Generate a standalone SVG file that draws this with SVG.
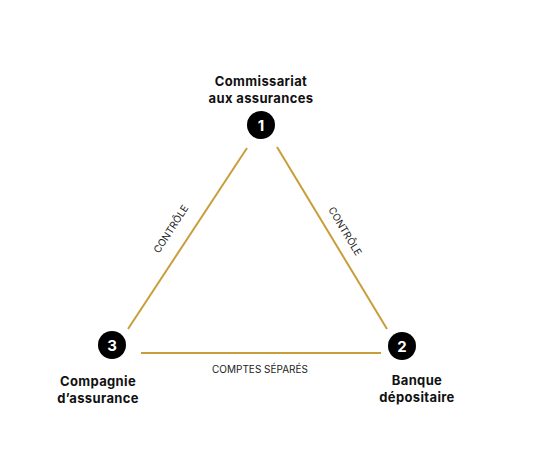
<svg xmlns="http://www.w3.org/2000/svg" width="538" height="451" viewBox="0 0 538 451">
<style>
.lbl{font-family:Inter,"Noto Sans","Liberation Sans",sans-serif;font-weight:700;font-size:13px;letter-spacing:0.35px;fill:#111;text-anchor:middle}
.num{font-family:Inter,"Noto Sans","Liberation Sans",sans-serif;font-weight:700;font-size:15px;fill:#fff;text-anchor:middle}
.edge{stroke:#C89E3A;stroke-width:2;fill:none}
.elbl{font-family:Inter,"Noto Sans","Liberation Sans",sans-serif;font-size:10px;fill:#222;text-anchor:middle}
</style>
<rect width="538" height="451" fill="#fff"/>
<g id="connectors">
<line class="edge" x1="247" y1="148" x2="128" y2="329"/>
<line class="edge" x1="277" y1="147" x2="387" y2="329"/>
<line class="edge" x1="141" y1="353" x2="381" y2="353"/>
<text class="elbl" transform="translate(174,231) rotate(-57)">CONTRÔLE</text>
<text class="elbl" transform="translate(342,233) rotate(59)">CONTRÔLE</text>
<text class="elbl" x="260" y="373">COMPTES SÉPARÉS</text>
</g>
<g id="node1">
<text class="lbl" x="261" y="86">Commissariat</text>
<text class="lbl" x="261" y="103">aux assurances</text>
<circle cx="261" cy="125" r="14" fill="#000"/>
<text class="num" x="261" y="130.5">1</text>
</g>
<g id="node2">
<circle cx="402" cy="346" r="14" fill="#000"/>
<text class="num" x="402" y="351.5">2</text>
<text class="lbl" x="417" y="385">Banque</text>
<text class="lbl" x="417" y="402">dépositaire</text>
</g>
<g id="node3">
<circle cx="112" cy="345" r="14" fill="#000"/>
<text class="num" x="112" y="350.5">3</text>
<text class="lbl" x="98" y="386">Compagnie</text>
<text class="lbl" x="98" y="403">d’assurance</text>
</g>
</svg>
